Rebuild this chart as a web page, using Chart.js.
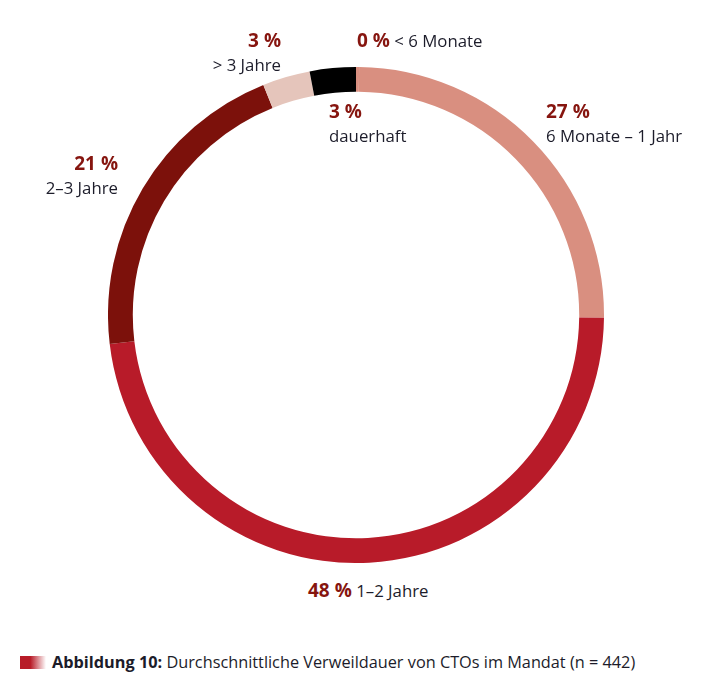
<!DOCTYPE html>
<html>
<head>
<meta charset="utf-8">
<script src="https://cdn.jsdelivr.net/npm/chart.js@4"></script>
<style>
  body { margin:0; background:#fff; width:725px; height:700px; position:relative; overflow:hidden;
         font-family:"Open Sans", "Noto Sans", sans-serif; color:#1c1c2a; }
  #wrap { position:absolute; left:108px; top:67px; width:496px; height:496px; }
  .lbl { position:absolute; font-size:16.8px; line-height:24px; white-space:nowrap; }
  .pct { font-weight:700; font-size:19px; color:#86150f; }
  .r { text-align:right; }
  #cap { position:absolute; left:20px; top:651px; font-size:16.3px; white-space:nowrap; }
  #cap b { font-weight:700; }
  #icon { display:inline-block; width:26px; height:13px; vertical-align:-1px; margin-right:6px;
          background:linear-gradient(to right, #b81c28 0%, #b81c28 40%, #ffffff 100%); }
</style>
</head>
<body>
<div id="wrap"><canvas id="pie-chart"></canvas></div>

<div class="lbl r" style="right:444px; top:28px;"><span class="pct">3 %</span><br>&gt; 3 Jahre</div>
<div class="lbl" style="left:357px; top:28px;"><span class="pct">0 %</span> &lt; 6 Monate</div>
<div class="lbl" style="left:329px; top:99px;"><span class="pct">3 %</span><br>dauerhaft</div>
<div class="lbl" style="left:546px; top:99px;"><span class="pct">27 %</span><br>6 Monate – 1 Jahr</div>
<div class="lbl r" style="right:607px; top:151px;"><span class="pct">21 %</span><br>2–3 Jahre</div>
<div class="lbl" style="left:308px; top:578px;"><span class="pct">48 %</span> 1–2 Jahre</div>

<div id="cap"><span id="icon"></span><b>Abbildung 10:</b> Durchschnittliche Verweildauer von CTOs im Mandat (n = 442)</div>

<script>
// Kategorien, im Uhrzeigersinn ab 12 Uhr
var categories = ["< 6 Monate", "6 Monate – 1 Jahr", "1–2 Jahre", "2–3 Jahre", "> 3 Jahre", "dauerhaft"];
// Anteile laut Bogenlänge im Bild (%)
var shares = [0.2, 25, 48, 20.8, 3.1, 3];
var colors = ["#d98f80", "#d98f80", "#b81b29", "#7c110b", "#e5c5bb", "#000000"];

var config = {
  type: 'doughnut',
  data: {
    labels: categories,
    datasets: [{
      data: shares,
      backgroundColor: colors,
      borderWidth: 0
    }]
  },
  options: {
    responsive: true,
    maintainAspectRatio: false,
    animation: false,
    cutout: '90%',
    layout: { padding: 0 },
    plugins: {
      legend: { display: false },
      tooltip: { enabled: false }
    }
  }
};
var ctx = document.getElementById('pie-chart').getContext('2d');
window.myPie = new Chart(ctx, config);
</script>
</body>
</html>
